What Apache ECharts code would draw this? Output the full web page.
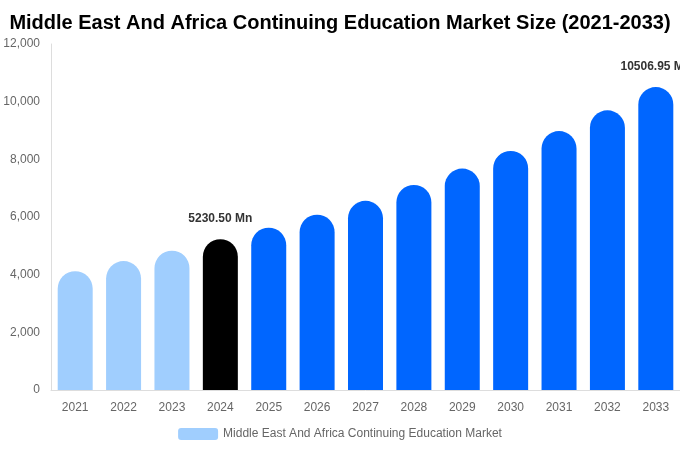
<!DOCTYPE html>
<html>
<head>
<meta charset="utf-8">
<script src="https://cdn.jsdelivr.net/npm/echarts@6/dist/echarts.min.js"></script>
<style>html,body{margin:0;padding:0;background:#fff}#c{width:680px;height:450px}</style>
</head>
<body>
<div id="c"></div>
<script>
var years = ['2021','2022','2023','2024','2025','2026','2027','2028','2029','2030','2031','2032','2033'];
var values = [4120, 4470, 4830, 5230.50, 5630, 6080, 6560, 7110, 7680, 8290, 8980, 9700, 10506.95];
var labeledYears = ['2024','2033'];
var yTicks = [0, 2000, 4000, 6000, 8000, 10000, 12000];
var seriesName = 'Middle East And Africa Continuing Education Market';
var titleText = 'Middle East And Africa Continuing Education Market Size (2021-2033)';

var baseYear = '2024';
function colorFor(y){
  if (y < baseYear) return '#a0cefe';
  if (y === baseYear) return '#000000';
  return '#0066ff';
}
var data = values.map(function(v,i){
  var y = years[i];
  var item = {value: v, itemStyle: {color: colorFor(y)}};
  if (labeledYears.indexOf(y) >= 0) {
    item.label = {show: true, position: 'top', distance: 14, formatter: function(p){ return p.value.toFixed(2) + ' Mn'; },
      fontWeight: 'bold', fontSize: 12, color: '#333', fontFamily: 'Liberation Sans, Arial, sans-serif'};
  }
  return item;
});

var chart = echarts.init(document.getElementById('c'), null, {renderer: 'canvas'});
chart.setOption({
  animation: false,
  textStyle: {fontFamily: 'Liberation Sans, Arial, sans-serif'},
  title: {text: titleText, left: 'center', top: 8,
    textStyle: {fontSize: 20, fontWeight: 'bold', color: '#000', fontFamily: 'Liberation Sans, Arial, sans-serif'}},
  legend: {bottom: 5, left: 'center', itemWidth: 40, itemHeight: 12, itemGap: 6,
    textStyle: {color: '#666', fontSize: 12},
    data: [{name: seriesName, itemStyle: {color: '#a0cefe'}}]},
  grid: {left: 51, right: 0, top: 44, bottom: 60, containLabel: false},
  xAxis: {type: 'category', data: years,
    axisLine: {lineStyle: {color: '#ddd'}}, axisTick: {show: false},
    axisLabel: {color: '#666', fontSize: 12, margin: 12}},
  yAxis: {type: 'value', min: yTicks[0], max: yTicks[yTicks.length-1], interval: yTicks[1]-yTicks[0],
    axisLine: {show: true, lineStyle: {color: '#ddd'}}, axisTick: {show: false},
    splitLine: {show: false},
    axisLabel: {color: '#666', fontSize: 12, margin: 11,
      formatter: function(v){ return v.toLocaleString('en-US'); }}},
  series: [{name: seriesName, type: 'bar', data: data, barWidth: 35,
    itemStyle: {borderRadius: [18,18,0,0], color: '#a0cefe'}}]
});
</script>
</body>
</html>
